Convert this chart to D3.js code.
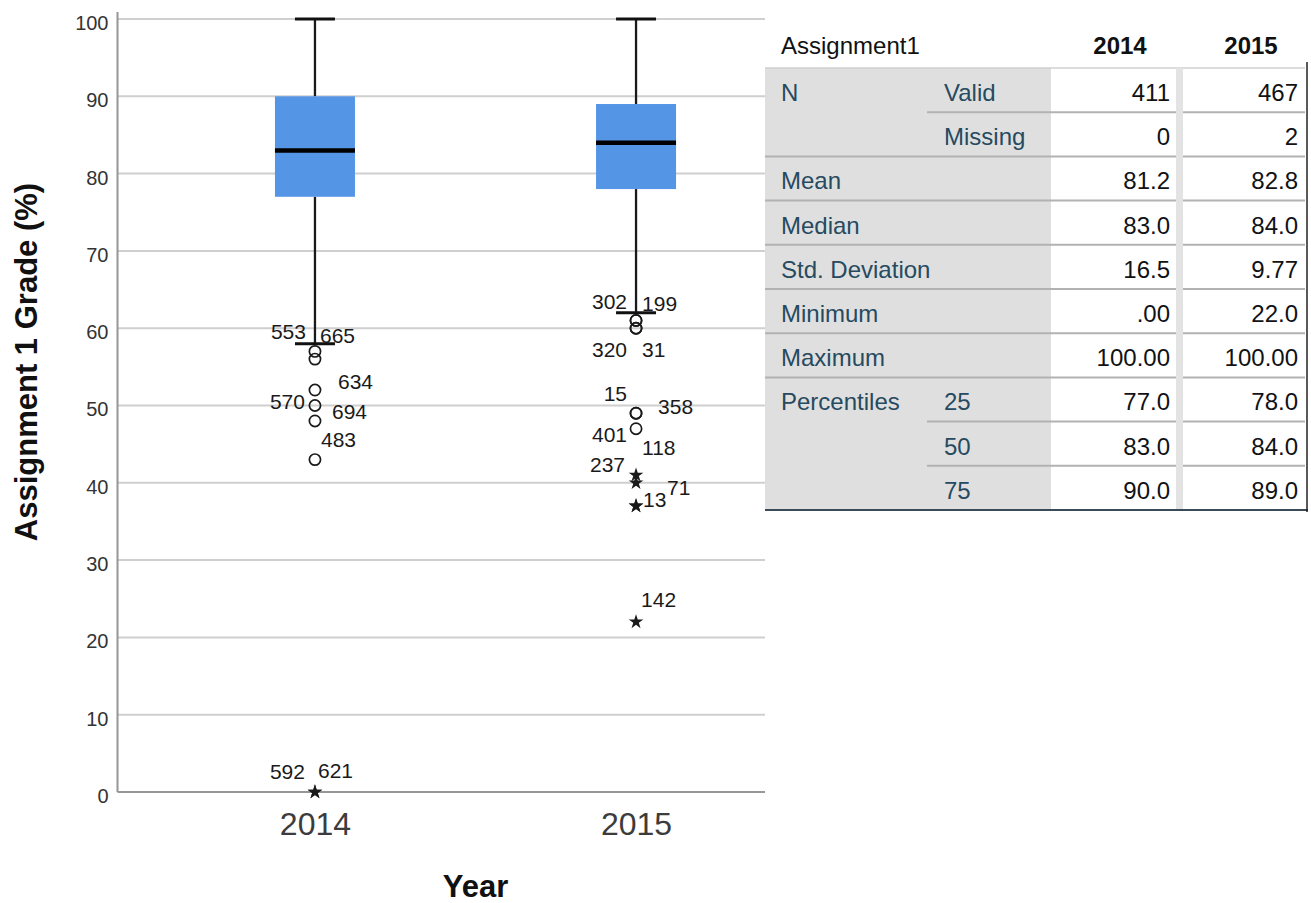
<!DOCTYPE html>
<html>
<head>
<meta charset="utf-8">
<script src="https://cdn.jsdelivr.net/npm/d3@7/dist/d3.min.js"></script>
<style>
  html, body { margin: 0; padding: 0; background: #fff; }
  svg { display: block; font-family: "Liberation Sans", Arial, sans-serif; }
</style>
</head>
<body>
<svg id="chart" width="1311" height="903"></svg>
<script>
// ---- Data -------------------------------------------------------------
const years = ["2014", "2015"];

// Box summaries (percentiles 25/50/75, whisker ends)
const q1 = [77, 78];
const median = [83, 84];
const q3 = [90, 89];
const whiskerLow = [58, 62];
const whiskerHigh = [100, 100];

// Flagged cases per year: case number and grade
const caseIds2014 = [553, 665, 634, 570, 694, 483, 592, 621];
const caseVals2014 = [57, 56, 52, 50, 48, 43, 0, 0];
const caseIds2015 = [302, 199, 320, 31, 15, 358, 401, 118, 237, 13, 71, 142];
const caseVals2015 = [61, 61, 60, 60, 49, 49, 47, 41, 40, 37, 37, 22];

const yTicks = [0, 10, 20, 30, 40, 50, 60, 70, 80, 90, 100];

// Statistics table
const tableTitle = "Assignment1";
const statLabels = ["N", "", "Mean", "Median", "Std. Deviation", "Minimum", "Maximum", "Percentiles", "", ""];
const statSubLabels = ["Valid", "Missing", "", "", "", "", "", "25", "50", "75"];
const stats2014 = ["411", "0", "81.2", "83.0", "16.5", ".00", "100.00", "77.0", "83.0", "90.0"];
const stats2015 = ["467", "2", "82.8", "84.0", "9.77", "22.0", "100.00", "78.0", "84.0", "89.0"];

// ---- Layout -----------------------------------------------------------
const svg = d3.select("#chart");
const plot = { left: 117.5, right: 833.5, top: 19, bottom: 792, clipRight: 765 };

const x = d3.scalePoint().domain(years).range([plot.left, plot.right]).padding(0.615);
const y = d3.scaleLinear().domain([0, 100]).range([plot.bottom, plot.top]);

// label offsets for case numbers (dx, dy from the marker, text anchor)
const labelLayout = {
  "2014-553": [-9, -12, "end"],  "2014-665": [5, -16, "start"],
  "2014-634": [23, -1, "start"], "2014-570": [-10, 3.5, "end"],
  "2014-694": [17, -2, "start"], "2014-483": [6, -12.5, "start"],
  "2014-592": [-10, -13, "end"], "2014-621": [3, -14, "start"],
  "2015-302": [-9, -11.5, "end"], "2015-199": [6, -9, "start"],
  "2015-320": [-9, 29, "end"],   "2015-31": [6, 29, "start"],
  "2015-15": [-9, -12.5, "end"], "2015-358": [22, 1, "start"],
  "2015-401": [-9, 13, "end"],   "2015-118": [6, -20, "start"],
  "2015-237": [-11, -11, "end"], "2015-13": [7, 1, "start"],
  "2015-71": [31, -11, "start"], "2015-142": [5, -15, "start"]
};

svg.append("defs").append("clipPath").attr("id", "plotClip")
  .append("rect").attr("x", 0).attr("y", 0)
  .attr("width", plot.clipRight).attr("height", 903);

const g = svg.append("g").attr("clip-path", "url(#plotClip)");

// gridlines
g.append("g").selectAll("line").data(yTicks.filter(d => d > 0)).join("line")
  .attr("x1", plot.left).attr("x2", plot.right)
  .attr("y1", d => y(d)).attr("y2", d => y(d))
  .attr("stroke", "#cfcfcf").attr("stroke-width", 2);

// axis lines
g.append("line").attr("x1", plot.left).attr("x2", plot.right)
  .attr("y1", y(0)).attr("y2", y(0))
  .attr("stroke", "#969696").attr("stroke-width", 2);
g.append("line").attr("x1", plot.left).attr("x2", plot.left)
  .attr("y1", plot.top - 7).attr("y2", y(0))
  .attr("stroke", "#969696").attr("stroke-width", 2);

// y axis tick labels
const yAxis = svg.append("g").attr("transform", `translate(${plot.left},0)`)
  .call(d3.axisLeft(y).tickValues(yTicks).tickSize(0).tickPadding(9).tickFormat(d3.format("d")));
yAxis.select(".domain").remove();
yAxis.selectAll("text").attr("font-size", 20).attr("fill", "#333")
  .attr("dy", "0.52em").attr("font-family", "Liberation Sans, Arial, sans-serif");

// x axis tick labels
const xAxis = svg.append("g").attr("transform", `translate(0,${y(0)})`)
  .call(d3.axisBottom(x).tickSize(0).tickPadding(20));
xAxis.select(".domain").remove();
xAxis.selectAll("text").attr("font-size", 32).attr("fill", "#3c3c3c")
  .attr("font-family", "Liberation Sans, Arial, sans-serif");

// axis titles
svg.append("text")
  .attr("transform", `translate(37,362) rotate(-90)`)
  .attr("text-anchor", "middle").attr("font-size", 31).attr("font-weight", "bold")
  .attr("fill", "#111").text("Assignment 1 Grade (%)");
svg.append("text")
  .attr("x", (plot.left + plot.right) / 2).attr("y", 897)
  .attr("text-anchor", "middle").attr("font-size", 31).attr("font-weight", "bold")
  .attr("fill", "#111").text("Year");

// ---- Boxes ------------------------------------------------------------
const boxW = 80, capW = 40;
const boxes = years.map((yr, i) => ({
  yr, q1: q1[i], med: median[i], q3: q3[i], lo: whiskerLow[i], hi: whiskerHigh[i]
}));

const bg = g.append("g");
boxes.forEach(b => {
  const cx = x(b.yr);
  // whiskers
  bg.append("line").attr("x1", cx).attr("x2", cx).attr("y1", y(b.hi)).attr("y2", y(b.q3))
    .attr("stroke", "#1a1a1a").attr("stroke-width", 2.3);
  bg.append("line").attr("x1", cx).attr("x2", cx).attr("y1", y(b.q1)).attr("y2", y(b.lo))
    .attr("stroke", "#1a1a1a").attr("stroke-width", 2.3);
  [b.hi, b.lo].forEach(v => {
    bg.append("line").attr("x1", cx - capW / 2).attr("x2", cx + capW / 2)
      .attr("y1", y(v)).attr("y2", y(v))
      .attr("stroke", "#111").attr("stroke-width", 3);
  });
  // box
  bg.append("rect").attr("x", cx - boxW / 2).attr("width", boxW)
    .attr("y", y(b.q3)).attr("height", y(b.q1) - y(b.q3))
    .attr("fill", "#5595e5");
  // median
  bg.append("line").attr("x1", cx - boxW / 2).attr("x2", cx + boxW / 2)
    .attr("y1", y(b.med)).attr("y2", y(b.med))
    .attr("stroke", "#000").attr("stroke-width", 4.5);
});

// ---- Outliers and extremes ------------------------------------------
const cases = [];
caseIds2014.forEach((id, i) => cases.push({ yr: "2014", id, v: caseVals2014[i], box: boxes[0] }));
caseIds2015.forEach((id, i) => cases.push({ yr: "2015", id, v: caseVals2015[i], box: boxes[1] }));
cases.forEach(c => {
  const iqr = c.box.q3 - c.box.q1;
  c.extreme = c.v < c.box.q1 - 3 * iqr || c.v > c.box.q3 + 3 * iqr;
});

const og = g.append("g");
og.selectAll("circle").data(cases.filter(c => !c.extreme)).join("circle")
  .attr("cx", c => x(c.yr)).attr("cy", c => y(c.v)).attr("r", 5.6)
  .attr("fill", "none").attr("stroke", "#1a1a1a").attr("stroke-width", 1.7);

const star = d3.symbol().type(d3.symbolStar).size(66);
og.selectAll("path.extreme").data(cases.filter(c => c.extreme)).join("path")
  .attr("class", "extreme")
  .attr("transform", c => `translate(${x(c.yr)},${y(c.v)})`)
  .attr("d", star).attr("fill", "#1a1a1a");

og.selectAll("text").data(cases).join("text")
  .attr("x", c => x(c.yr) + labelLayout[c.yr + "-" + c.id][0])
  .attr("y", c => y(c.v) + labelLayout[c.yr + "-" + c.id][1])
  .attr("text-anchor", c => labelLayout[c.yr + "-" + c.id][2])
  .attr("font-size", 21).attr("fill", "#1a1a1a")
  .text(c => c.id);

// ---- Statistics table -------------------------------------------------
const t = { left: 765, sub: 927, c1: 1051, c1r: 1176, c2: 1183, c2r: 1305, top: 68, rowH: 44.2 };
const nRows = statLabels.length;
const tBottom = t.top + nRows * t.rowH;
const tg = svg.append("g");

tg.append("rect").attr("x", t.left).attr("y", 0).attr("width", 1311 - t.left).attr("height", tBottom + 4).attr("fill", "#fff");
tg.append("rect").attr("x", t.left).attr("y", t.top).attr("width", t.c1 - t.left).attr("height", tBottom - t.top).attr("fill", "#dfdfdf");

// header
tg.append("text").attr("x", 781).attr("y", 54).attr("font-size", 24).attr("fill", "#111").text(tableTitle);
[[years[0], 1120], [years[1], 1251]].forEach(([lab, cx]) => {
  tg.append("text").attr("x", cx).attr("y", 54).attr("text-anchor", "middle")
    .attr("font-size", 24).attr("font-weight", "bold").attr("fill", "#111").text(lab);
});
tg.append("line").attr("x1", t.left).attr("x2", t.c2r).attr("y1", t.top).attr("y2", t.top)
  .attr("stroke", "#d0d0d0").attr("stroke-width", 1.5);

// row separators
for (let r = 1; r < nRows; r++) {
  const yy = t.top + r * t.rowH;
  const partial = statLabels[r] === "";
  tg.append("line").attr("x1", partial ? t.sub : t.left).attr("x2", t.c2r)
    .attr("y1", yy).attr("y2", yy).attr("stroke", "#b2b2b2").attr("stroke-width", 2);
}
// separator column between the year columns
tg.append("rect").attr("x", t.c1r).attr("y", t.top).attr("width", t.c2 - t.c1r).attr("height", tBottom - t.top).attr("fill", "#e3e3e3");

// cells
for (let r = 0; r < nRows; r++) {
  const base = t.top + r * t.rowH + 33;
  if (statLabels[r]) tg.append("text").attr("x", 781).attr("y", base).attr("font-size", 24).attr("fill", "#264a60").text(statLabels[r]);
  if (statSubLabels[r]) tg.append("text").attr("x", 944).attr("y", base).attr("font-size", 24).attr("fill", "#264a60").text(statSubLabels[r]);
  tg.append("text").attr("x", t.c1r - 6).attr("y", base).attr("text-anchor", "end").attr("font-size", 24).attr("fill", "#101214").text(stats2014[r]);
  tg.append("text").attr("x", t.c2r - 7).attr("y", base).attr("text-anchor", "end").attr("font-size", 24).attr("fill", "#101214").text(stats2015[r]);
}

// outer borders
tg.append("line").attr("x1", t.left).attr("x2", 1308).attr("y1", tBottom).attr("y2", tBottom)
  .attr("stroke", "#3a4a58").attr("stroke-width", 2);
tg.append("line").attr("x1", 1307).attr("x2", 1307).attr("y1", 62).attr("y2", tBottom + 2)
  .attr("stroke", "#222").attr("stroke-width", 1.5);
</script>
</body>
</html>
